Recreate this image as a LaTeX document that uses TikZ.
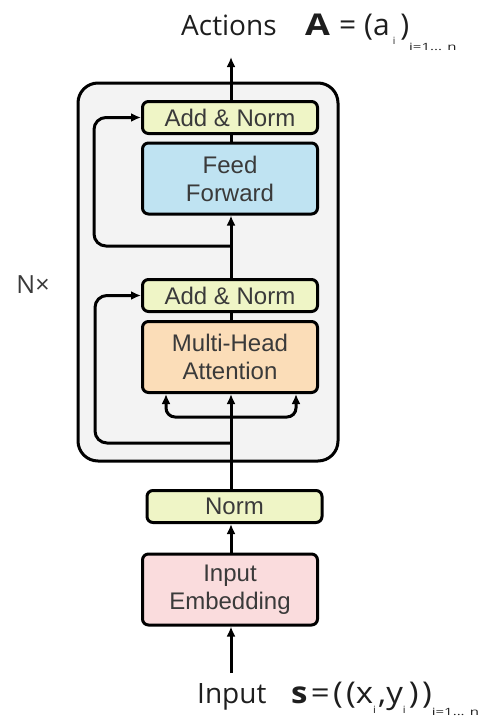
\documentclass[tikz,border=0pt]{standalone}
\usepackage{fontspec}
\usepackage{graphicx}
\setmainfont{Open Sans}
\newfontfamily\boxfont{Liberation Sans}
\usetikzlibrary{arrows.meta,calc}

\definecolor{layerfill}{HTML}{F3F3F3}
\definecolor{normfill}{HTML}{EFF5C6}
\definecolor{fffill}{HTML}{BFE3F2}
\definecolor{attfill}{HTML}{FBDDB8}
\definecolor{embfill}{HTML}{FADCDD}
\definecolor{boxtext}{HTML}{3A3A3A}
\definecolor{labeltext}{HTML}{1E1E1E}

% small lowered indices used in the two formulas
\newcommand{\idx}[2]{\raisebox{#1}{\fontsize{10}{10}\selectfont #2}}
\newcommand{\range}[1]{\raisebox{#1}{\scalebox{1.5}[1]{\fontsize{10}{10}\selectfont i=1... n}}}

\tikzset{
  block/.style={draw=black, line width=3pt, rounded corners=6pt,
    minimum width=175pt, text=boxtext, align=center,
    font=\boxfont\fontsize{24}{28}\selectfont},
  thin block/.style={block, minimum height=32pt},
  tall block/.style={block, minimum height=71pt},
  flow/.style={line width=3pt},
  arr/.style={flow, -{Latex[length=10pt,width=9pt]}},
  label/.style={text=labeltext, inner sep=0pt,
    font=\fontsize{28}{30}\selectfont},
  formula/.style={text=labeltext, inner sep=0pt,
    font=\fontsize{30}{32}\selectfont}
}

\begin{document}
\begin{tikzpicture}[x=1pt,y=-1pt]
\useasboundingbox (0,0) rectangle (487,720);

% repeated encoder layer
\node[draw=black, line width=3pt, rounded corners=20pt, fill=layerfill,
      minimum width=260pt, minimum height=378pt] (layer) at (208,272) {};
\node[text=boxtext, font=\fontsize{25}{25}\selectfont] (nx) at (33,285) {N×};

% blocks
\node[thin block, fill=normfill] (an2) at (230,117.5) {Add \& Norm};
\node[tall block, fill=fffill] (ff) at (230,178.5) {Feed\\Forward};
\node[thin block, fill=normfill] (an1) at (230,295.5) {Add \& Norm};
\node[tall block, fill=attfill] (mha) at (230,357) {Multi-Head\\Attention};
\node[thin block, fill=normfill] (norm) at (234.5,506.5) {Norm};
\node[tall block, fill=embfill] (emb) at (230,589.5) {Input\\Embedding};

% output label
\node[label, anchor=base west] (actions) at (181,35) {Actions};
\node[formula, anchor=base west] (actformula) at (305,35)
  {\scalebox{1.2}[1]{\textbf{A}}\hspace{9pt}=\hspace{8pt}(a\hspace{3pt}\idx{-9pt}{i}\hspace{5pt})\range{-15pt}};

% input label
\node[label, anchor=base west] (input) at (197,703) {Input};
\node[formula, anchor=base west] (informula) at (291,703)
  {\scalebox{1.1}[1]{\textbf{s}\hspace{3pt}=\hspace{3pt}(\hspace{3pt}(x\idx{-10pt}{i}\hspace{2pt},y\idx{-10pt}{i}\hspace{3pt})\hspace{3pt})}\range{-12pt}};

% junction points on the main line
\coordinate (top) at (231,57);
\coordinate (src) at (231,673);
\coordinate (res1) at (231,443);
\coordinate (fork) at (231,417);
\coordinate (res2) at (231,246);

% main data path
\draw[arr] (src) -- (src |- emb.south);
\draw[arr] (src |- emb.north) -- (src |- norm.south);
\draw[arr] (src |- norm.north) -- (src |- mha.south);
\draw[flow] (src |- mha.north) -- (src |- an1.south);
\draw[arr] (src |- an1.north) -- (src |- ff.south);
\draw[flow] (src |- ff.north) -- (src |- an2.south);
\draw[arr] (src |- an2.north) -- (top);

% query / key / value fork
\draw[arr, rounded corners=9pt] (fork) -| ($(mha.south)+(-64,0)$);
\draw[arr, rounded corners=9pt] (fork) -| ($(mha.south)+(66,0)$);

% residual connections
\draw[arr, rounded corners=12pt] (res1) -| ($(an1.west)+(-46,0)$) -- (an1.west);
\draw[arr, rounded corners=12pt] (res2) -| ($(an2.west)+(-47,0)$) -- (an2.west);
\end{tikzpicture}
\end{document}
